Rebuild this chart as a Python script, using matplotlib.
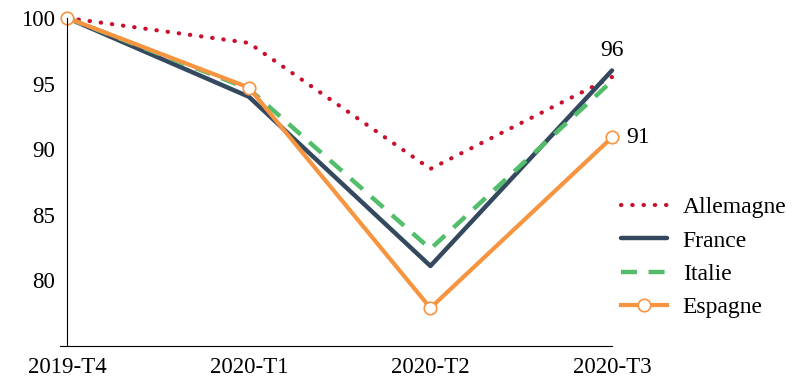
import matplotlib
matplotlib.use("Agg")
import matplotlib.pyplot as plt

categories = ["2019-T4", "2020-T1", "2020-T2", "2020-T3"]
allemagne = [100, 98.1, 88.5, 95.5]
france = [100, 94.0, 81.1, 96.0]
italie = [100, 94.6, 82.4, 95.2]
espagne = [100, 94.7, 77.9, 90.9]
yticks = [80, 85, 90, 95, 100]

c_all = "#C8102E"
c_fra = "#34495E"
c_ita = "#52BE6A"
c_esp = "#F7943F"

plt.rcParams['font.family'] = ['Liberation Serif', 'DejaVu Serif']

fig = plt.figure(figsize=(7.95, 3.91), dpi=100)
ax = fig.add_axes([60 / 795, 0.115, 552 / 795, 0.954 - 0.115])
x = list(range(len(categories)))

l1, = ax.plot(x, allemagne, color=c_all, lw=3, linestyle=(0, (0.1, 2.6)),
              dash_capstyle='round', label="Allemagne", clip_on=False)
l2, = ax.plot(x, france, color=c_fra, lw=3.2, label="France",
              solid_capstyle='round', clip_on=False)
l3, = ax.plot(x, italie, color=c_ita, lw=3.2, linestyle=(0, (3.6, 2.6)),
              label="Italie", clip_on=False)
l4, = ax.plot(x, espagne, color=c_esp, lw=3, marker='o', markersize=9,
              markerfacecolor='white', markeredgecolor=c_esp, markeredgewidth=1.2,
              label="Espagne", clip_on=False)

ax.text(x[3], france[3] + 1.55, "96", fontsize=17, ha='center', va='center')
ax.text(x[3] + 0.08, espagne[3], "91", fontsize=17, ha='left', va='center')

ax.set_xlim(-0.04, 3)
ax.set_ylim(75, 100)
ax.spines['left'].set_position(('data', 0))
for s in ['top', 'right']:
    ax.spines[s].set_visible(False)
ax.set_xticks(x)
ax.set_xticklabels(categories)
ax.set_yticks(yticks)
ax.tick_params(axis='both', length=0, labelsize=16.5)
ax.tick_params(axis='x', pad=8)
ax.tick_params(axis='y', pad=9)

leg = ax.legend(handles=[l1, l2, l3, l4], loc='center left', bbox_to_anchor=(1.0, 0.27),
                frameon=False, fontsize=17, handlelength=1.95, handletextpad=0.65,
                labelspacing=0.5, borderaxespad=0)
fig.savefig("out.png", dpi=100)
